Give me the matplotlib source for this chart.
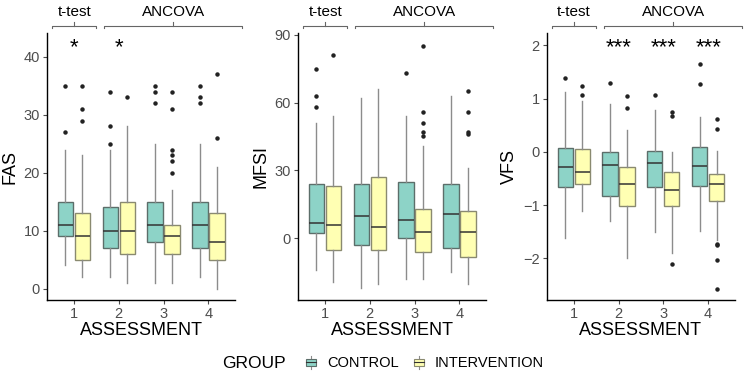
import numpy as np
import matplotlib.pyplot as plt
from matplotlib.legend_handler import HandlerBase
from matplotlib.patches import Rectangle, Patch
from matplotlib.lines import Line2D

plt.rcParams['font.family'] = ['Liberation Sans', 'DejaVu Sans']

assessments = [1, 2, 3, 4]
groups = ["CONTROL", "INTERVENTION"]
colors = ["#8DD3C7", "#FFFFB3"]

# FAS
fas_ctrl_q1 = [9, 7, 8, 7]
fas_ctrl_med = [11, 10, 11, 11]
fas_ctrl_q3 = [15, 14, 15, 15]
fas_ctrl_lo = [4, 2, 1, 2]
fas_ctrl_hi = [24, 24, 25, 25]
fas_ctrl_out = [[27, 35], [25, 28, 34], [32, 34, 35], [32, 33, 35]]
fas_int_q1 = [5, 6, 6, 5]
fas_int_med = [9, 10, 9, 8]
fas_int_q3 = [13, 15, 11, 13]
fas_int_lo = [2, 1, 1, 0]
fas_int_hi = [23, 28, 17, 21]
fas_int_out = [[29, 31, 35], [33], [20, 22, 23, 24, 31, 34], [26, 37]]
fas_stars = ["*", "*", "", ""]

# MFSI
mfsi_ctrl_q1 = [2.5, -3, 0, -4]
mfsi_ctrl_med = [7, 10, 8, 11]
mfsi_ctrl_q3 = [24, 24, 25, 24]
mfsi_ctrl_lo = [-14, -22, -18, -15]
mfsi_ctrl_hi = [51, 62, 54, 63]
mfsi_ctrl_out = [[58, 63, 75], [], [73], []]
mfsi_int_q1 = [-5, -5, -6, -8]
mfsi_int_med = [6, 5, 3, 3]
mfsi_int_q3 = [23, 27, 13, 12]
mfsi_int_lo = [-19, -20, -18, -20]
mfsi_int_hi = [54, 66, 41, 31]
mfsi_int_out = [[81], [], [45, 47, 51, 56, 85], [46, 47, 56, 65]]
mfsi_stars = ["", "", "", ""]

# VFS
vfs_ctrl_q1 = [-0.66, -0.82, -0.66, -0.64]
vfs_ctrl_med = [-0.29, -0.25, -0.21, -0.27]
vfs_ctrl_q3 = [0.08, 0.0, 0.01, 0.10]
vfs_ctrl_lo = [-1.61, -1.30, -1.51, -1.48]
vfs_ctrl_hi = [1.12, 0.89, 0.79, 0.66]
vfs_ctrl_out = [[1.39], [1.29], [1.07], [1.27, 1.64]]
vfs_int_q1 = [-0.61, -1.01, -1.02, -0.92]
vfs_int_med = [-0.375, -0.60, -0.72, -0.61]
vfs_int_q3 = [0.05, -0.275, -0.38, -0.42]
vfs_int_lo = [-1.11, -2.0, -1.9, -1.65]
vfs_int_hi = [0.95, 0.41, 0.0, 0.02]
vfs_int_out = [[1.07, 1.23], [0.83, 1.04], [-2.11, 0.67, 0.74],
               [-2.57, -2.02, -1.75, -1.72, 0.42, 0.62]]
vfs_stars = ["", "***", "***", "***"]


def make_stats(q1, med, q3, lo, hi, out):
    return [dict(q1=a, med=b, q3=c, whislo=d, whishi=e, fliers=f)
            for a, b, c, d, e, f in zip(q1, med, q3, lo, hi, out)]


panels = [
    ("FAS", make_stats(fas_ctrl_q1, fas_ctrl_med, fas_ctrl_q3, fas_ctrl_lo, fas_ctrl_hi, fas_ctrl_out),
     make_stats(fas_int_q1, fas_int_med, fas_int_q3, fas_int_lo, fas_int_hi, fas_int_out),
     fas_stars, (-2.0, 44.1), [0, 10, 20, 30, 40]),
    ("MFSI", make_stats(mfsi_ctrl_q1, mfsi_ctrl_med, mfsi_ctrl_q3, mfsi_ctrl_lo, mfsi_ctrl_hi, mfsi_ctrl_out),
     make_stats(mfsi_int_q1, mfsi_int_med, mfsi_int_q3, mfsi_int_lo, mfsi_int_hi, mfsi_int_out),
     mfsi_stars, (-27.2, 90.6), [0, 30, 60, 90]),
    ("VFS", make_stats(vfs_ctrl_q1, vfs_ctrl_med, vfs_ctrl_q3, vfs_ctrl_lo, vfs_ctrl_hi, vfs_ctrl_out),
     make_stats(vfs_int_q1, vfs_int_med, vfs_int_q3, vfs_int_lo, vfs_int_hi, vfs_int_out),
     vfs_stars, (-2.78, 2.225), [-2, -1, 0, 1, 2]),
]

fig = plt.figure(figsize=(7.47, 3.77), dpi=100)
lefts = [0.063, 0.399, 0.732]
BW = 0.34
OFF = 0.19
edges = ["#5c6e6a", "#8a8a70"]

for left, (name, ctrl, intv, stars, ylim, yticks) in zip(lefts, panels):
    ax = fig.add_axes([left, 0.204, 0.252, 0.708])
    pos = np.array(assessments, dtype=float)
    for stats, dx, col, ec in [(ctrl, -OFF, colors[0], edges[0]), (intv, OFF, colors[1], edges[1])]:
        ax.bxp(stats, positions=pos + dx, widths=BW, patch_artist=True, showcaps=False,
               boxprops=dict(facecolor=col, edgecolor=ec, linewidth=1.0),
               medianprops=dict(color="#333333", linewidth=1.1),
               whiskerprops=dict(color="#8c8c8c", linewidth=1.0),
               flierprops=dict(marker="o", markerfacecolor="#222222", markeredgecolor="#222222",
                               markersize=2.2, linestyle="none"))
    ax.set_xlim(0.4, 4.6)
    ax.set_ylim(*ylim)
    ax.set_yticks(yticks)
    ax.set_xticks(assessments)
    ax.set_xticklabels([str(a) for a in assessments])
    for s in ["top", "right"]:
        ax.spines[s].set_visible(False)
    for s in ["left", "bottom"]:
        ax.spines[s].set_color("black")
        ax.spines[s].set_linewidth(1.0)
    ax.tick_params(axis="both", colors="#4d4d4d", labelsize=10.5, length=3, width=0.8, pad=2)
    ax.set_xlabel("ASSESSMENT", fontsize=13, labelpad=1)
    ax.set_ylabel(name, fontsize=13, labelpad=4)

    # significance stars
    for a, st in zip(assessments, stars):
        if st:
            ax.text(a, 0.945, st, transform=ax.get_xaxis_transform(), ha="center", va="center",
                    fontsize=16, color="black")

    # brackets above the panel
    tr = ax.get_xaxis_transform()
    for (x0, x1, label) in [(0.52, 1.5, "t-test"), (1.68, 4.76, "ANCOVA")]:
        xm = (x0 + x1) / 2
        ax.plot([x0, x0, x1, x1], [1.018, 1.027, 1.027, 1.018], transform=tr, color="#666666",
                lw=0.8, clip_on=False)
        ax.plot([xm, xm], [1.027, 1.04], transform=tr, color="#666666", lw=0.8, clip_on=False)
        ax.text(xm, 1.08, label, transform=tr, ha="center", va="center", fontsize=11,
                color="black", clip_on=False)


class BoxHandler(HandlerBase):
    def create_artists(self, legend, orig_handle, xdescent, ydescent, width, height, fontsize, trans):
        cx = width / 2 - xdescent
        cy = height / 2 - ydescent
        w = width * 0.8
        h = height * 0.5
        box = Rectangle((cx - w / 2, cy - h / 2), w, h, facecolor=orig_handle.get_facecolor(),
                        edgecolor=orig_handle.get_edgecolor(), lw=0.8, transform=trans)
        med = Line2D([cx - w / 2, cx + w / 2], [cy, cy], color="#333333", lw=0.8, transform=trans)
        wh = Line2D([cx, cx], [cy - height * 0.5, cy + height * 0.5], color="#8c8c8c", lw=0.8,
                    transform=trans)
        return [wh, box, med]


handles = [Patch(facecolor=colors[0], edgecolor=edges[0]), Patch(facecolor=colors[1], edgecolor=edges[1])]
fig.text(222 / 747, 0.037, "GROUP", fontsize=12.5, ha="left", va="center")
fig.legend(handles, groups, loc="center left", bbox_to_anchor=(292 / 747, 0.037), ncol=2, frameon=False,
           fontsize=10.5, handler_map={Patch: BoxHandler()},
           handlelength=0.8, handleheight=1.0, handletextpad=0.7, columnspacing=1.0)

fig.savefig("out.png", dpi=100)
